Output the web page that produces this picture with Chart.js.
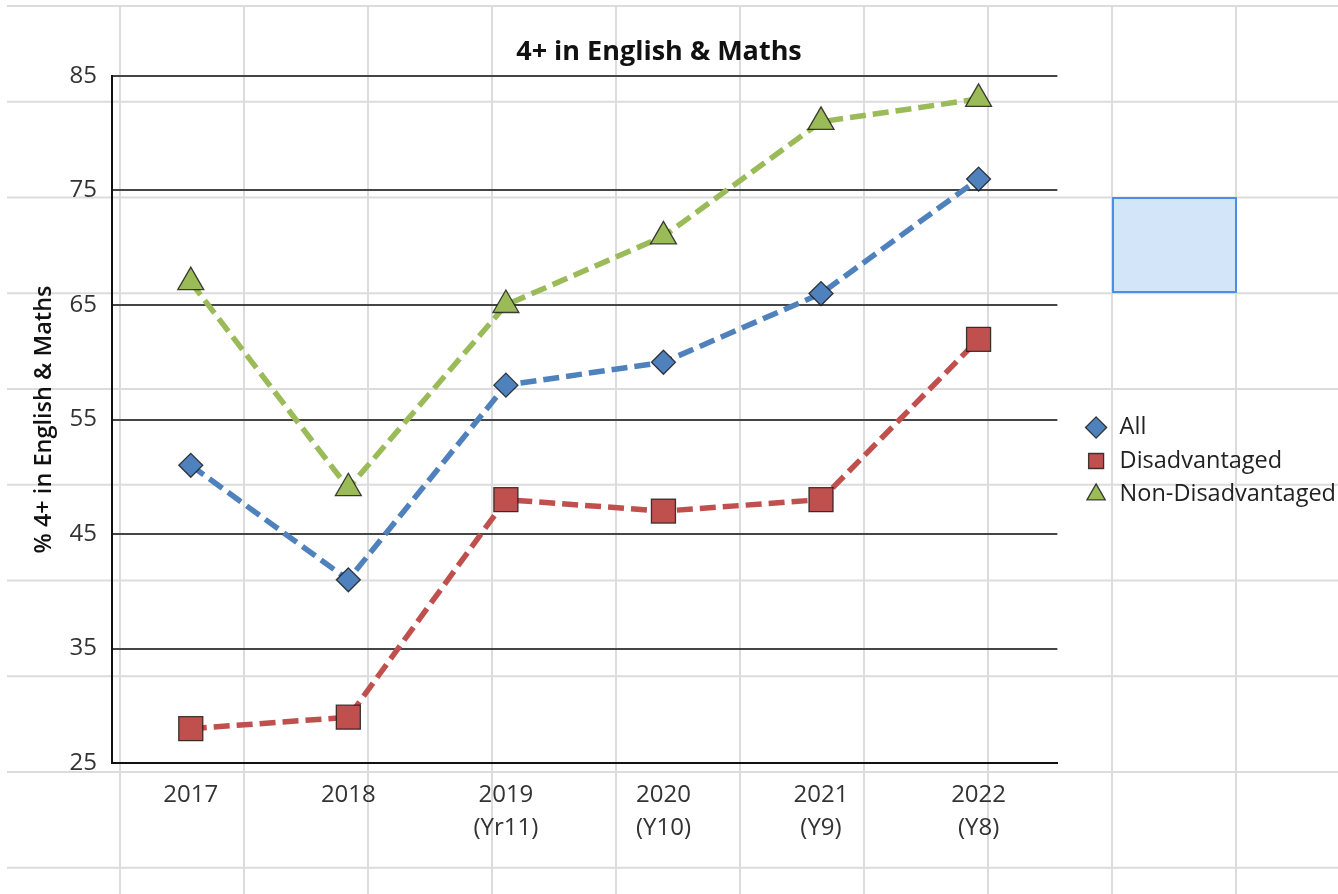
<!DOCTYPE html>
<html>
<head>
<meta charset="utf-8">
<script src="https://cdn.jsdelivr.net/npm/chart.js@4.4.1/dist/chart.umd.min.js"></script>
<style>
html, body { margin: 0; padding: 0; background: #ffffff; }
#wrap { position: relative; width: 1338px; height: 894px; overflow: hidden; background: #ffffff; }
#sheet {
  position: absolute; left: 7px; top: 5px; right: 0; bottom: 0;
  background-image:
    linear-gradient(to right, #dcdcdc 0, #dcdcdc 2px, transparent 2px),
    linear-gradient(to bottom, #dcdcdc 0, #dcdcdc 2px, transparent 2px);
  background-size: 124px 100%, 100% 95.75px;
  background-position: 112px 0, 0 0;
}
#cell { position: absolute; left: 1112px; top: 197px; width: 121px; height: 92px; background: #d3e5f9; border: 2px solid #4a8fe7; }
#chart { position: absolute; left: 0; top: 0; }
</style>
</head>
<body>
<div id="wrap">
  <div id="sheet"></div>
  <div id="cell"></div>
  <canvas id="chart" width="1338" height="894"></canvas>
</div>
<script>
// ---- data ----
const categories = ['2017', '2018', ['2019', '(Yr11)'], ['2020', '(Y10)'], ['2021', '(Y9)'], ['2022', '(Y8)']];
const allValues = [51, 41, 58, 60, 66, 76];
const disadvantagedValues = [28, 29, 48, 47, 48, 62];
const nonDisadvantagedValues = [67, 49, 65, 71, 81, 83];
const seriesNames = ['All', 'Disadvantaged', 'Non-Disadvantaged'];
const yTickValues = [25, 35, 45, 55, 65, 75, 85];
const chartTitle = '4+ in English & Maths';
const yAxisTitle = '% 4+ in English & Maths';

Chart.defaults.font.family = "'Open Sans', 'Noto Sans', sans-serif";
Chart.defaults.color = '#333333';

const dash = [16, 7];
function series(label, data, color, style, radius) {
  return {
    label, data,
    borderColor: color,
    backgroundColor: color,
    borderWidth: 5.5,
    borderDash: dash,
    borderCapStyle: 'butt',
    tension: 0,
    fill: false,
    pointStyle: style,
    pointRadius: radius,
    pointHoverRadius: radius,
    pointBackgroundColor: color,
    pointBorderColor: 'rgba(20,20,20,0.8)',
    pointBorderWidth: 1.3
  };
}

new Chart(document.getElementById('chart'), {
  type: 'line',
  data: {
    labels: categories,
    datasets: [
      series(seriesNames[0], allValues, '#4f81bd', 'rectRot', 12),
      series(seriesNames[1], disadvantagedValues, '#c0504d', 'rect', 17),
      series(seriesNames[2], nonDisadvantagedValues, '#9bbb59', 'triangle', 15)
    ]
  },
  options: {
    responsive: false,
    animation: false,
    layout: { padding: { top: 28, right: -8, bottom: 0, left: -28 } },
    plugins: {
      title: {
        display: true,
        text: chartTitle,
        color: '#111111',
        font: { size: 27, weight: 'bold' },
        padding: { top: 8, bottom: 7.6 }
      },
      legend: {
        display: true,
        position: 'right',
        align: 'center',
        labels: {
          usePointStyle: true,
          boxWidth: 24,
          boxHeight: 15,
          padding: 10,
          color: '#222222',
          font: { size: 23.5 }
        }
      },
      tooltip: { enabled: false }
    },
    scales: {
      x: {
        type: 'category',
        offset: true,
        grid: { display: false, drawTicks: false },
        border: { display: true, color: '#111111', width: 2 },
        ticks: { color: '#333333', font: { size: 24, lineHeight: 1.375 }, padding: 16, maxRotation: 0, autoSkip: false },
        afterFit: (s) => { s.height = 131; }
      },
      y: {
        min: yTickValues[0],
        max: yTickValues[yTickValues.length - 1],
        afterBuildTicks: (s) => { s.ticks = yTickValues.map(v => ({ value: v })); },
        grid: { color: '#454545', lineWidth: 2, drawTicks: false },
        border: { display: true, color: '#111111', width: 2 },
        ticks: { color: '#333333', font: { size: 24 }, padding: 15 },
        title: {
          display: true,
          text: yAxisTitle,
          color: '#111111',
          font: { size: 23.5, weight: '600' },
          padding: { top: 58, bottom: 0 }
        },
        afterFit: (s) => { s.width = 140; }
      },
      spacer: {
        position: 'right',
        display: false,
        afterFit: (s) => { s.width = 17; }
      }
    }
  }
});
</script>
</body>
</html>
